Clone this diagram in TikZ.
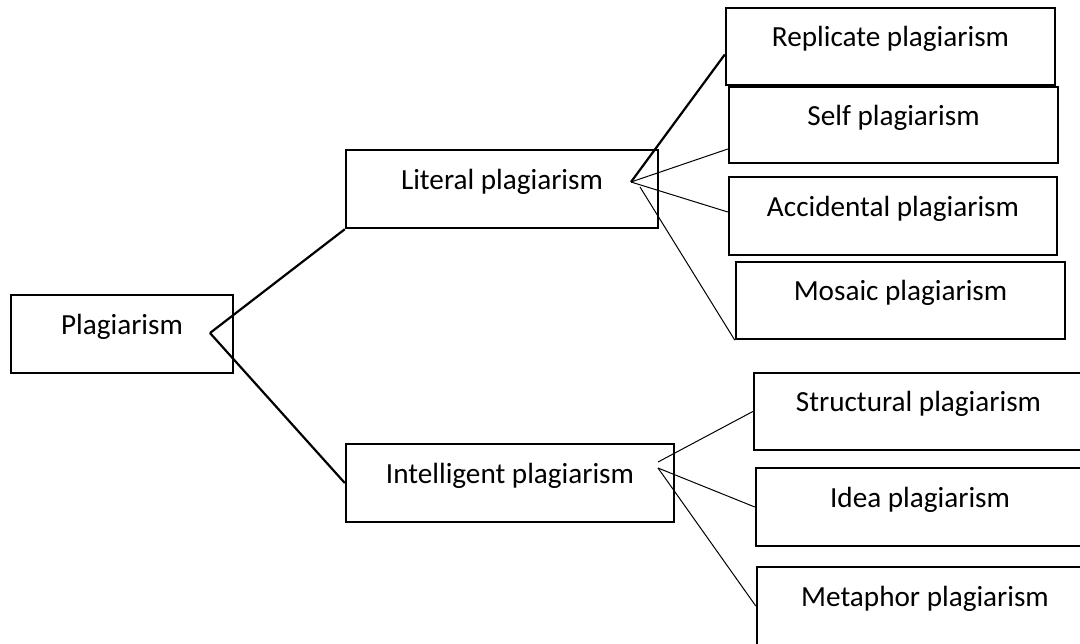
\documentclass[tikz,border=0pt]{standalone}
\usepackage{fontspec}
\setmainfont{Carlito}

\begin{document}
\begin{tikzpicture}[x=0.5pt, y=-0.5pt,
    box/.style={draw, line width=1.2pt, rectangle, inner sep=0pt,
        font=\fontsize{14.6}{17}\selectfont, text height=11pt, text depth=11pt},
    thick link/.style={line width=1.1pt},
    thin link/.style={line width=0.5pt}]
    \useasboundingbox (0,0) rectangle (1080,643);

    % root and the two main kinds
    \node[box, minimum width=111pt, minimum height=39pt] (plag) at (122,334) {Plagiarism};
    \node[box, minimum width=156pt, minimum height=39pt] (lit) at (502,189) {Literal plagiarism};
    \node[box, minimum width=164pt, minimum height=39pt] (int) at (510,483) {Intelligent plagiarism};

    % literal kinds
    \node[box, minimum width=164.5pt, minimum height=38.5pt] (rep) at (890.5,46.5) {Replicate plagiarism};
    \node[box, minimum width=164.5pt, minimum height=38pt] (self) at (893.5,125) {Self plagiarism};
    \node[box, minimum width=164pt, minimum height=39pt] (acc) at (893,216) {Accidental plagiarism};
    \node[box, minimum width=164.5pt, minimum height=38.5pt] (mos) at (900.5,300.5) {Mosaic plagiarism};

    % intelligent kinds
    \node[box, minimum width=164.5pt, minimum height=38.5pt] (str) at (918.5,411.5) {Structural plagiarism};
    \node[box, minimum width=164pt, minimum height=39pt] (idea) at (920,507) {Idea plagiarism};
    \node[box, minimum width=168pt, minimum height=39pt] (met) at (925,606) {Metaphor plagiarism};

    \coordinate (plag-out) at (210,333);
    \coordinate (lit-out) at (631,182);
    \coordinate (lit-out2) at (640,187);
    \coordinate (int-out) at (658,462);
    \coordinate (int-out2) at (658,468);

    \draw[thick link] (plag-out) -- (lit.south west);
    \draw[thick link] (plag-out) -- (int.west);
    \draw[thick link] (lit-out) -- ([yshift=-4pt]rep.west);
    \draw[thin link] (lit-out) -- ([yshift=-12pt]self.west);
    \draw[thin link] (lit-out) -- ([yshift=2pt]acc.west);
    \draw[thin link] (lit-out2) -- (mos.south west);
    \draw[thin link] (int-out) -- (str.west);
    \foreach \k in {idea, met} {
        \draw[thin link] (int-out2) -- (\k.west);
    }
\end{tikzpicture}
\end{document}
